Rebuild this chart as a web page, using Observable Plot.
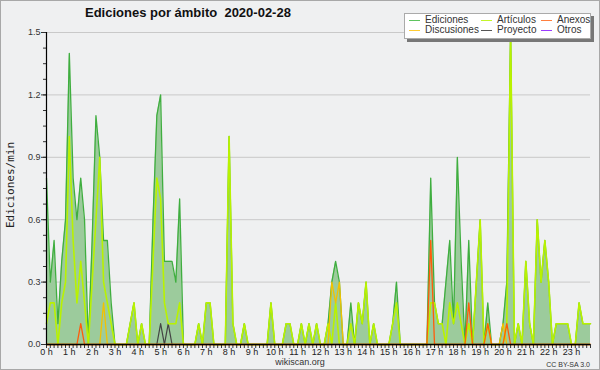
<!DOCTYPE html>
<html>
<head>
<meta charset="utf-8">
<script src="https://cdn.jsdelivr.net/npm/d3@7"></script>
<script src="https://cdn.jsdelivr.net/npm/@observablehq/plot@0.6"></script>
<style>
  html, body { margin: 0; padding: 0; background: #eff0f1; }
  #wrap { position: relative; width: 600px; height: 370px; background: #eff0f1; overflow: hidden; font-family: "Liberation Sans", Arial, sans-serif; }
  #wrap svg { position: absolute; left: 0; top: 0; }
  .title { position: absolute; left: 85px; top: 5px; font: bold 13px "Liberation Sans", Arial, sans-serif; color: #111; white-space: pre; }
  .ylab { position: absolute; left: 10px; top: 185px; transform: translate(-50%, -50%) rotate(-90deg); font: 11px "DejaVu Sans Mono", monospace; color: #222; white-space: nowrap; }
  .legend { position: absolute; left: 404px; top: 13px; width: 185px; height: 24px; background: #fff; border: 1px solid #aaa; box-shadow: 3px 3px 0 #777; }
  .item { position: absolute; font: 10px "Liberation Sans", Arial, sans-serif; color: #333; white-space: nowrap; line-height: 10px; }
  .sw { position: absolute; width: 11px; height: 0; border-top: 1px solid; top: 5px; }
  .foot { position: absolute; left: 250px; width: 100px; top: 358px; text-align: center; font: 9px "Liberation Sans", Arial, sans-serif; line-height: 9px; color: #333; }
  .cc { position: absolute; right: 10px; top: 361px; font: 7px "Liberation Sans", Arial, sans-serif; line-height: 7px; color: #333; }
  .border { position: absolute; left: 0; top: 0; width: 598px; height: 368px; border: 1px solid #a8a8a8; pointer-events: none; }
</style>
</head>
<body>
<div id="wrap"></div>
<script>
// 10-minute bins, 0h..23h50 (6 per hour)
const ediciones = [
  0.8,0.3,0.5,0.1,0.4,0.6,
  1.4,0.8,0.6,0.8,0.6,0.0,
  0.5,1.1,0.9,0.5,0.5,0.2,
  0,0,0,0,0.1,0.2,
  0,0.1,0,0,0.6,1.1,
  1.2,0.4,0.4,0.4,0.3,0.7,
  0,0,0,0,0.1,0,
  0.2,0.2,0,0,0,0,
  1.0,0.1,0,0,0.1,0,
  0,0,0,0,0,0.2,
  0,0,0,0.1,0.1,0,
  0,0.1,0,0.1,0,0.1,
  0,0,0.1,0.3,0.4,0.3,
  0,0,0.2,0,0.2,0.1,
  0.3,0,0.1,0,0,0,
  0,0.1,0.3,0,0,0,
  0,0,0,0,0,0.8,
  0.2,0.1,0.1,0.3,0.5,0.1,
  0.9,0.4,0,0.5,0,0.3,
  0.6,0,0.2,0,0,0,
  0.1,0.3,1.5,0,0.1,0,
  0.4,0.1,0,0.6,0.3,0.5,
  0.3,0,0.1,0.1,0.1,0.1,
  0,0,0.2,0.1,0.1,0.1
];
const articulos = [
  0.1,0.2,0.2,0,0.2,0.3,
  1.0,0.5,0.2,0.4,0.2,0,
  0.3,0.6,0.9,0.3,0.2,0.1,
  0,0,0,0,0.1,0.2,
  0,0.1,0,0,0.4,0.8,
  0.7,0.2,0.1,0.1,0.1,0.2,
  0,0,0,0,0.1,0,
  0.2,0.2,0,0,0,0,
  1.0,0.1,0,0,0.1,0,
  0,0,0,0,0,0.2,
  0,0,0,0.1,0.1,0,
  0,0.1,0,0.1,0,0.1,
  0,0,0.1,0,0.2,0,
  0,0,0.1,0,0.2,0.1,
  0.3,0,0.1,0,0,0,
  0,0.1,0.2,0,0,0,
  0,0,0,0,0,0.2,
  0.2,0.1,0.1,0,0.2,0.1,
  0.2,0.1,0,0.1,0,0.3,
  0.6,0,0.1,0,0,0,
  0,0.1,1.5,0,0.1,0,
  0.4,0.1,0,0.6,0.3,0.5,
  0.3,0,0.1,0.1,0.1,0.1,
  0,0,0.2,0.1,0.1,0.1
];
const anexos = [
  0,0,0,0,0,0,  0,0,0,0.1,0,0,  0,0,0,0,0,0,  0,0,0,0,0,0,
  0,0,0,0,0,0,  0,0,0,0,0,0,    0,0,0,0,0,0,  0,0,0,0,0,0,
  0,0,0,0,0,0,  0,0,0,0,0,0,    0,0,0,0,0,0,  0,0,0,0,0,0,
  0,0,0,0,0,0,  0,0,0,0,0,0,    0,0,0,0,0,0,  0,0,0,0,0,0,
  0,0,0,0,0,0.5, 0,0,0,0,0,0,   0,0,0,0.2,0,0, 0,0,0.1,0,0,0,
  0,0.1,0,0,0,0, 0,0,0,0,0,0,   0,0,0,0,0,0,  0,0,0,0,0,0
];
const discusiones = [
  0,0,0,0,0,0,  0,0,0,0,0,0,  0,0,0,0.2,0,0,  0,0,0,0,0,0,
  0,0,0,0,0,0,  0,0,0,0,0,0,  0,0,0,0,0,0,    0,0,0,0,0,0,
  0,0,0,0,0,0,  0,0,0,0,0,0,  0,0,0,0,0,0,    0,0,0,0,0,0,
  0,0,0,0.3,0.2,0.3, 0,0,0,0,0,0, 0,0,0,0,0,0, 0,0,0,0,0,0,
  0,0,0,0,0,0,  0,0,0,0,0,0,  0,0,0,0,0,0,    0,0,0,0,0,0,
  0.1,0,0,0,0,0, 0,0,0,0,0,0, 0,0,0,0,0,0,    0,0,0,0,0,0
];
const proyecto = [
  0,0,0,0,0,0,  0,0,0,0,0,0,  0,0,0,0,0,0,  0,0,0,0,0,0,
  0,0,0,0,0,0,  0.1,0,0.1,0,0,0, 0,0,0,0,0,0, 0,0,0,0,0,0,
  0,0,0,0,0,0,  0,0,0,0,0,0,  0,0,0,0,0,0,  0,0,0,0,0,0,
  0,0,0,0,0,0,  0,0,0,0,0,0,  0,0,0,0,0,0,  0,0,0,0,0,0,
  0,0,0,0,0,0,  0,0,0,0,0,0,  0,0,0,0,0,0,  0,0,0,0,0,0,
  0,0,0,0,0,0,  0,0,0,0,0,0,  0,0,0,0,0,0,  0,0,0,0,0,0
];
const otros = new Array(144).fill(0);

const seriesNames  = ["Ediciones", "Artículos", "Anexos", "Discusiones", "Proyecto", "Otros"];
const seriesColors = ["#5ec45e", "#c4f52a", "#ff7f3f", "#ffcc33", "#555555", "#9b3dff"];
const yTicks = [0, 0.3, 0.6, 0.9, 1.2, 1.5];
const titleText = "Ediciones por ámbito  2020-02-28";
const yLabel = "Ediciones/min";

const data = d3.range(144).map(i => ({
  i, total: ediciones[i], art: articulos[i], anx: anexos[i],
  disc: discusiones[i], proy: proyecto[i], otros: otros[i]
}));

const plot = Plot.plot({
  width: 600, height: 370,
  marginLeft: 46, marginRight: 10, marginTop: 32, marginBottom: 26,
  style: { background: "transparent", fontFamily: "Liberation Sans, Arial, sans-serif", fontSize: "9px", color: "#333" },
  x: { type: "linear", domain: [0, 143], axis: null },
  y: { domain: [0, 1.5], axis: null },
  marks: [
    Plot.ruleY(yTicks, { stroke: "#c9c9c9", strokeWidth: 1 }),
    Plot.areaY(data, { x: "i", y: "total", fill: "#9ccb9c", fillOpacity: 1 }),
    Plot.lineY(data, { x: "i", y: "total", stroke: "#3fae3f", strokeWidth: 1.3 }),
    Plot.lineY(data, { x: "i", y: "otros", stroke: "#9b3dff", strokeWidth: 1.2 }),
    Plot.lineY(data, { x: "i", y: "proy", stroke: "#444444", strokeWidth: 1.2 }),
    Plot.lineY(data, { x: "i", y: "art", stroke: "#b9f200", strokeWidth: 1.6 }),
    Plot.lineY(data, { x: "i", y: "disc", stroke: "#f2c200", strokeWidth: 1.3 }),
    Plot.lineY(data, { x: "i", y: "anx", stroke: "#ff5c0a", strokeWidth: 1.3 }),
    Plot.axisY({ ticks: d3.range(0, 1.5001, 0.075), tickFormat: () => "", tickSize: 3, label: null }),
    Plot.axisY({ ticks: yTicks, tickFormat: d3.format(".1f"), tickSize: 5, tickPadding: 1, label: null, fill: "#333" }),
    Plot.axisX({ ticks: d3.range(144), tickFormat: d => d % 6 === 0 ? `${d / 6} h` : "", tickSize: 4, tickPadding: 0, label: null, fill: "#222" }),
    Plot.ruleX([0], { stroke: "#000", strokeWidth: 1.2 }),
    Plot.ruleY([0], { stroke: "#000", strokeWidth: 1.6 })
  ]
});

const wrap = document.getElementById("wrap");
wrap.appendChild(plot);

const t = document.createElement("div"); t.className = "title"; t.textContent = titleText; wrap.appendChild(t);
const yl = document.createElement("div"); yl.className = "ylab"; yl.textContent = yLabel; wrap.appendChild(yl);

const lg = document.createElement("div"); lg.className = "legend"; wrap.appendChild(lg);
const colX = [4, 76, 136];
const rowY = [1, 11];
seriesNames.forEach((name, k) => {
  const col = k % 3, row = Math.floor(k / 3);
  const it = document.createElement("div"); it.className = "item";
  it.style.left = colX[col] + "px"; it.style.top = rowY[row] + "px";
  const sw = document.createElement("span"); sw.className = "sw"; sw.style.borderTopColor = seriesColors[k]; sw.style.left = "0px";
  const tx = document.createElement("span"); tx.textContent = name; tx.style.marginLeft = "16px";
  it.appendChild(sw); it.appendChild(tx); lg.appendChild(it);
});

const f = document.createElement("div"); f.className = "foot"; f.textContent = "wikiscan.org"; wrap.appendChild(f);
const cc = document.createElement("div"); cc.className = "cc"; cc.textContent = "CC BY-SA 3.0"; wrap.appendChild(cc);
const b = document.createElement("div"); b.className = "border"; wrap.appendChild(b);
</script>
</body>
</html>
